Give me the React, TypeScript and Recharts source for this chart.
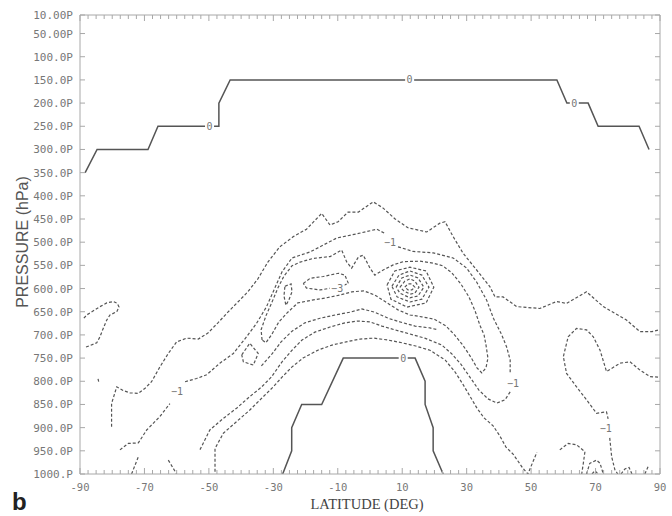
import { ComposedChart, Line, Scatter, XAxis, YAxis, ReferenceLine } from 'recharts';

const W = 672;
const H = 516;
const PLOT = { left: 80, right: 660, top: 15, bottom: 474 };

// axis ticks
const yTicks = [10, 50, 100, 150, 200, 250, 300, 350, 400, 450, 500, 550, 600, 650, 700, 750, 800, 850, 900, 950, 1000];
const yTickLabels = ['10.00P', '50.00P', '100.0P', '150.0P', '200.0P', '250.0P', '300.0P', '350.0P', '400.0P', '450.0P', '500.0P',
  '550.0P', '600.0P', '650.0P', '700.0P', '750.0P', '800.0P', '850.0P', '900.0P', '950.0P', '1000.P'];
const xMajor = [-90, -70, -50, -30, -10, 10, 30, 50, 70, 90];
const xTickLabels = ['-90', '-70', '-50', '-30', '-10', '10', '30', '50', '70', '90'];
const xTicks = Array.from({ length: 73 }, (_, i) => -90 + i * 2.5);

// contours as [latitude, pressure]
const zeroTop = [[-88.4, 350], [-84.7, 300], [-68.9, 300], [-65.8, 250], [-46.9, 250], [-46.9, 200], [-43.4, 150], [58.0, 150],
  [61.1, 200], [67.7, 200], [70.8, 250], [83.5, 250], [86.6, 300]];
const zeroBottom = [[-27.1, 1000], [-24.3, 950], [-24.3, 900], [-21.2, 850], [-15.0, 850], [-8.3, 750], [14.0, 750], [17.1, 800],
  [17.1, 850], [19.6, 900], [19.6, 950], [22.7, 1000]];

const outerDash = [[-80.2, 898], [-80.2, 848], [-78.6, 812], [-76.6, 820], [-74.5, 825], [-71.9, 826], [-69.8, 815], [-67.8, 801],
  [-65.2, 769], [-62.6, 740], [-60.0, 715], [-56.9, 707], [-53.3, 709], [-50.3, 696], [-47.2, 674], [-44.1, 651], [-41.0, 629],
  [-37.9, 607], [-34.8, 579], [-31.7, 543], [-28.0, 510], [-23.8, 488], [-19.7, 472], [-15.0, 438], [-12.4, 463], [-9.9, 456],
  [-6.8, 435], [-3.6, 435], [1.0, 413], [4.0, 426], [7.8, 450], [11.8, 469], [17.6, 478], [21.7, 459], [23.3, 456], [25.8, 488],
  [28.9, 524], [33.1, 560], [37.2, 596], [38.8, 618], [41.3, 618], [45.5, 639], [52.7, 643], [57.9, 628], [61.0, 632], [67.2, 607],
  [72.4, 639], [79.6, 668], [83.8, 693], [87.5, 693], [89.7, 689]];

const c2a = [[-77.6, 948], [-75.0, 934], [-71.9, 933], [-69.3, 905], [-65.2, 876], [-62.1, 848]];
const c2b = [[-57.4, 801], [-53.8, 794], [-50.7, 786], [-46.6, 761], [-42.4, 740], [-38.3, 704], [-35.2, 675], [-32.1, 639],
  [-29.8, 603], [-27.3, 564], [-24.2, 534], [-18.6, 521], [-10.3, 491], [-4.1, 482], [2.1, 472], [4.6, 481]];
const c2c = [[8.7, 510], [13.4, 520], [19.6, 523], [25.8, 534], [30.0, 556], [33.1, 586], [36.2, 625], [38.3, 664], [40.9, 700],
  [42.4, 726], [43.5, 754], [43.5, 784]];
const c2d = [[43.5, 823], [41.9, 840], [39.4, 847], [36.6, 838], [33.8, 819], [31.0, 791], [28.2, 763], [25.4, 741], [22.3, 722],
  [17.0, 707], [12.4, 698], [7.7, 689], [3.7, 681], [0.0, 672], [-3.7, 670], [-7.8, 674], [-12.4, 683], [-17.1, 694], [-21.1, 711],
  [-24.2, 733], [-27.3, 758], [-30.5, 790], [-33.6, 812], [-37.3, 833], [-41.4, 858], [-45.5, 880], [-49.7, 905], [-52.8, 948]];

const c3 = [[-33.5, 711], [-33.8, 689], [-32.3, 659], [-30.4, 629], [-28.6, 599], [-26.7, 573], [-24.2, 551], [-21.7, 543],
  [-17.6, 535], [-12.4, 531], [-8.8, 517], [-7.2, 543], [-5.7, 556], [-3.6, 532], [-2.1, 528], [0.0, 556], [1.5, 571], [4.1, 560],
  [7.2, 549], [10.3, 542], [15.5, 541], [19.5, 545], [22.6, 551], [25.4, 566], [28.2, 590], [30.7, 618], [32.6, 648], [34.1, 679],
  [35.4, 700], [36.0, 722], [36.6, 750], [36.0, 771], [34.7, 782], [33.2, 771], [31.3, 748], [28.8, 722], [26.0, 698], [23.6, 681],
  [19.9, 666], [16.1, 661], [12.4, 657], [8.7, 646], [4.9, 629], [1.5, 614], [-1.9, 605], [-5.6, 607], [-9.3, 614], [-13.6, 620],
  [-18.0, 625], [-22.4, 631], [-25.5, 651], [-28.3, 672], [-30.4, 698], [-32.3, 717], [-33.5, 711]];

const c5 = [[-33.7, 767], [-30.4, 741], [-27.6, 715], [-24.2, 692], [-20.2, 674], [-15.5, 664], [-10.8, 657], [-6.2, 651],
  [-2.5, 644], [1.5, 651], [5.6, 664], [9.3, 672], [14.0, 681], [18.6, 685], [21.1, 689]];

const c7 = [[-48.1, 995], [-48.1, 945], [-45.5, 912], [-41.4, 887], [-37.3, 862], [-33.1, 833], [-30.0, 812], [-27.3, 791],
  [-24.2, 769], [-20.8, 750], [-16.2, 733], [-11.8, 722], [-7.4, 715], [-3.1, 709], [1.2, 707], [5.6, 711], [9.9, 717], [14.2, 724],
  [18.6, 733], [23.3, 754], [26.4, 780], [28.8, 806], [31.0, 832], [33.2, 858], [35.4, 879], [38.2, 896], [40.3, 918], [42.2, 942],
  [44.4, 957], [45.9, 972], [47.4, 987], [49.0, 1000], [51.8, 953]];

const loopMinus3 = [[-20.7, 589], [-18.6, 578], [-14.5, 574], [-9.8, 567], [-7.8, 571], [-6.7, 589], [-9.3, 596], [-15.5, 603],
  [-19.7, 599], [-20.7, 589]];
const loopSmall = [[-26.4, 595], [-24.5, 590], [-24.2, 607], [-25.2, 625], [-26.1, 636], [-26.7, 616], [-26.4, 595]];
const diamond = [[-39.8, 743], [-37.3, 718], [-34.7, 740], [-36.2, 765], [-39.3, 758], [-39.8, 743]];

const ring1 = [[5.3, 592], [7.7, 562], [12.4, 554], [17.4, 562], [19.8, 597], [17.4, 631], [11.5, 640], [6.5, 623], [5.3, 592]];
const ring2 = [[6.8, 595], [9.0, 571], [12.4, 562], [16.1, 571], [18.3, 597], [16.1, 623], [12.4, 629], [8.4, 618], [6.8, 595]];
const ring3 = [[8.1, 597], [9.9, 577], [12.4, 571], [14.9, 577], [16.7, 597], [14.9, 616], [12.4, 620], [9.3, 610], [8.1, 597]];
const ring4 = [[9.3, 597], [10.8, 584], [12.4, 579], [13.9, 584], [15.2, 597], [13.9, 610], [12.4, 612], [10.5, 605], [9.3, 597]];
const ring5 = [[10.8, 597], [11.8, 590], [13.0, 590], [13.9, 597], [13.0, 603], [11.8, 603], [10.8, 597]];

const leftLoop = [[-88.8, 664], [-87.9, 657], [-83.8, 639], [-81.7, 631], [-79.7, 628], [-78.4, 632], [-77.9, 640], [-78.6, 650],
  [-80.7, 657], [-81.7, 668], [-82.8, 686], [-83.8, 704], [-84.8, 717], [-86.9, 723], [-88.5, 727]];
const leftDot = [[-84.4, 795], [-84.2, 801]];
const leftBit1 = [[-74.0, 1000], [-71.9, 963]];
const leftBit2 = [[-62.6, 970], [-60.0, 1000]];

const rightA = [[89.4, 791], [86.9, 790], [83.8, 776], [80.7, 758], [77.6, 761], [73.4, 779], [71.4, 733], [69.3, 704], [67.2, 689],
  [64.1, 686], [61.5, 704], [60.0, 747], [61.0, 783], [64.1, 812], [67.2, 840], [70.3, 869], [73.4, 866], [73.9, 881]];
const rightB = [[74.4, 922], [75.0, 963], [76.0, 991], [76.9, 1000]];
const bottomBit1 = [[58.9, 948], [61.5, 934], [64.1, 937], [66.7, 952], [66.2, 977], [65.7, 1000]];
const bottomBit2 = [[67.2, 1000], [68.2, 977], [70.3, 970], [71.4, 977], [72.4, 1000]];
const bottomBit3 = [[68.9, 1000], [69.8, 993], [70.8, 1000]];
const bottomBit4 = [[77.9, 1000], [79.1, 989], [80.4, 986], [81.3, 1000]];
const bottomBit5 = [[85.3, 1000], [86.3, 984]];

const contourLabels = [
  { lat: -49.8, p: 250, text: '0' }, { lat: 12.3, p: 150, text: '0' }, { lat: 63.4, p: 200, text: '0' },
  { lat: 10.3, p: 750, text: '0' }, { lat: -59.9, p: 821, text: '−1' }, { lat: 6.2, p: 500, text: '−1' },
  { lat: 44.4, p: 804, text: '−1' }, { lat: 73.2, p: 901, text: '−1' }, { lat: -10.2, p: 599, text: '−3' },
];

const toPts = (arr: number[][]) => arr.map(([lat, p]) => ({ lat, p }));

const solidLines = [zeroTop, zeroBottom];
const dashedLines = [outerDash, c2a, c2b, c2c, c2d, c3, c5, c7, loopMinus3, loopSmall, diamond, ring1, ring2, ring3, ring4, ring5,
  leftLoop, leftDot, leftBit1, leftBit2, rightA, rightB, bottomBit1, bottomBit2, bottomBit3, bottomBit4, bottomBit5];

const AXIS = '#a8a8a8';
const INK = '#555';
const TICK_FONT = '"DejaVu Sans Mono", monospace';

function XTick(props: any) {
  const { x, payload } = props;
  const i = xMajor.indexOf(payload.value);
  const len = i >= 0 ? 6 : 4;
  return (
    <g>
      <line x1={x} x2={x} y1={PLOT.bottom} y2={PLOT.bottom - len} stroke={AXIS} />
      <line x1={x} x2={x} y1={PLOT.top} y2={PLOT.top + len} stroke={AXIS} />
      {i >= 0 && (
        <text x={x} y={PLOT.bottom + 17} textAnchor="middle" fontSize={10.5} fill="#777" fontFamily={TICK_FONT}>
          {xTickLabels[i]}
        </text>
      )}
    </g>
  );
}

function YTick(props: any) {
  const { y, payload } = props;
  const i = yTicks.indexOf(payload.value);
  return (
    <g>
      <line x1={PLOT.left} x2={PLOT.left + 5} y1={y} y2={y} stroke={AXIS} />
      <line x1={PLOT.right - 5} x2={PLOT.right} y1={y} y2={y} stroke={AXIS} />
      <text x={PLOT.left - 7} y={y} dy={4} textAnchor="end" fontSize={11} fill="#777" fontFamily={TICK_FONT}>
        {yTickLabels[i]}
      </text>
    </g>
  );
}

function LabelShape(props: any) {
  const { cx, cy, payload } = props;
  const w = payload.text.length * 6 + 3;
  return (
    <g>
      <rect x={cx - w / 2} y={cy - 5} width={w} height={10} fill="#fff" />
      <text x={cx} y={cy} dy={3.5} textAnchor="middle" fontSize={10} fill="#777" fontFamily={TICK_FONT}>
        {payload.text}
      </text>
    </g>
  );
}

export default function App() {
  return (
    <div style={{ position: 'absolute', left: 0, top: 0, width: W, height: H, background: '#fff' }}>
      <ComposedChart width={W} height={H} margin={{ top: 15, right: 12, bottom: 0, left: 0 }}>
        <XAxis type="number" dataKey="lat" domain={[-90, 90]} ticks={xTicks} interval={0} tick={XTick}
          tickLine={false} tickSize={0} axisLine={{ stroke: AXIS }} height={42} allowDataOverflow />
        <YAxis type="number" dataKey="p" domain={[10, 1000]} reversed ticks={yTicks} interval={0} tick={YTick}
          tickLine={false} tickSize={0} axisLine={{ stroke: AXIS }} width={80} allowDataOverflow />
        <ReferenceLine y={10} stroke={AXIS} />
        <ReferenceLine x={90} stroke={AXIS} />
        {solidLines.map((d, i) => (
          <Line key={'s' + i} data={toPts(d)} dataKey="p" type="linear" stroke={INK} strokeWidth={1.5}
            dot={false} activeDot={false} isAnimationActive={false} />
        ))}
        {dashedLines.map((d, i) => (
          <Line key={'d' + i} data={toPts(d)} dataKey="p" type="linear" stroke={INK} strokeWidth={1.2}
            strokeDasharray="3 2" dot={false} activeDot={false} isAnimationActive={false} />
        ))}
        <Scatter data={contourLabels} dataKey="p" shape={LabelShape} isAnimationActive={false} />
      </ComposedChart>
      <svg width={W} height={H} style={{ position: 'absolute', left: 0, top: 0, pointerEvents: 'none' }}>
        <text x={28} y={242} transform="rotate(-90 28 242)" textAnchor="middle" fontSize={16} fill="#555"
          fontFamily='"Liberation Sans", Arial, sans-serif'>PRESSURE (hPa)</text>
        <text x={367} y={509} textAnchor="middle" fontSize={14.5} fill="#444"
          fontFamily='"Liberation Serif", "Times New Roman", serif'>LATITUDE (DEG)</text>
        <text x={12} y={510} fontSize={24} fontWeight="bold" fill="#222"
          fontFamily='"Liberation Sans", Arial, sans-serif'>b</text>
      </svg>
    </div>
  );
}
